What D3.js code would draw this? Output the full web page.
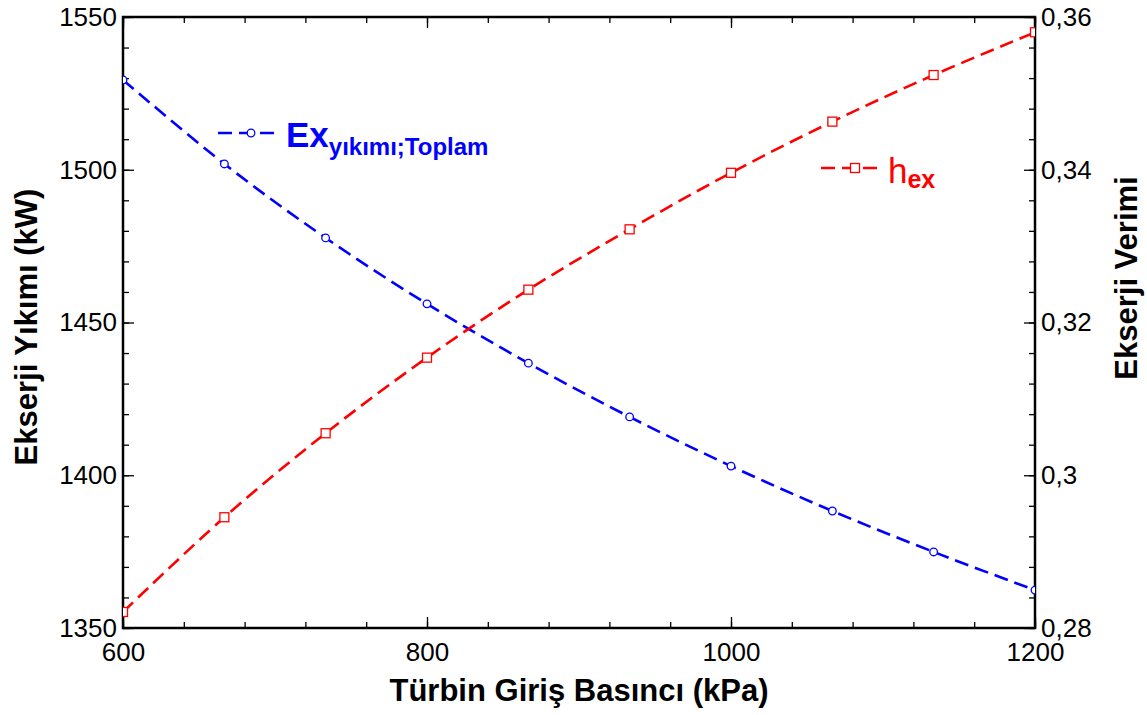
<!DOCTYPE html>
<html lang="tr">
  <head>
    <meta charset="UTF-8" />
    <title>Ekserji Yıkımı ve Verimi</title>
    <style>
      body {
        margin: 0;
        background: #fff;
      }
      svg {
        font-family: "Liberation Sans", Arial, sans-serif;
      }
    </style>
  </head>
  <body>
    <svg id="chart"></svg>
    <script src="https://d3js.org/d3.v7.min.js"></script>
    <script>
      // data
      const pressure = [600, 666.7, 733.3, 800, 866.7, 933.3, 1000, 1066.7, 1133.3, 1200];
      const exDestruction = [1529.4, 1501.9, 1477.7, 1456.1, 1436.7, 1419.1, 1403.0, 1388.3, 1374.9, 1362.4];
      const exEfficiency = [0.2821, 0.2945, 0.3055, 0.3154, 0.3243, 0.3322, 0.3396, 0.3463, 0.3524, 0.358];
      const xTicks = [600, 800, 1000, 1200];
      const yLeftTicks = [1350, 1400, 1450, 1500, 1550];
      const yRightTicks = [0.28, 0.3, 0.32, 0.34, 0.36];

      const W = 1147, H = 715;
      const m = { left: 123, right: 112, top: 17, bottom: 87 };
      const iw = W - m.left - m.right;
      const ih = H - m.top - m.bottom;

      const svg = d3.select("#chart").attr("width", W).attr("height", H);
      const g = svg.append("g").attr("transform", `translate(${m.left},${m.top})`);

      const x = d3.scaleLinear().domain([600, 1200]).range([0, iw]);
      const yL = d3.scaleLinear().domain([1350, 1550]).range([ih, 0]);
      const yR = d3.scaleLinear().domain([0.28, 0.36]).range([ih, 0]);

      const fmtComma = (d) => String(+d.toFixed(2)).replace(".", ",");

      svg.append("defs").append("clipPath").attr("id", "clip")
        .append("rect").attr("width", iw).attr("height", ih);

      function styleAxis(sel) {
        sel.select(".domain").remove();
        sel.selectAll("line").attr("stroke", "#000").attr("stroke-width", 1.3);
        sel.selectAll("text").attr("font-size", 26).attr("fill", "#000");
      }

      // minor ticks
      const xMinor = d3.range(600, 1201, 40);
      const lMinor = d3.range(1350, 1551, 10);
      const rMinor = d3.range(0, 21).map((i) => 0.28 + i * 0.004);

      g.append("g").attr("transform", `translate(0,${ih})`)
        .call(d3.axisBottom(x).tickValues(xMinor).tickSize(-6).tickFormat(""))
        .call(styleAxis);
      g.append("g")
        .call(d3.axisTop(x).tickValues(xMinor).tickSize(-6).tickFormat(""))
        .call(styleAxis);
      g.append("g")
        .call(d3.axisLeft(yL).tickValues(lMinor).tickSize(-6).tickFormat(""))
        .call(styleAxis);
      g.append("g").attr("transform", `translate(${iw},0)`)
        .call(d3.axisRight(yR).tickValues(rMinor).tickSize(-6).tickFormat(""))
        .call(styleAxis);

      // major ticks with labels
      g.append("g").attr("transform", `translate(0,${ih})`)
        .call(d3.axisBottom(x).tickValues(xTicks).tickSize(-11).tickPadding(15).tickFormat(d3.format("d")))
        .call(styleAxis);
      g.append("g")
        .call(d3.axisTop(x).tickValues(xTicks).tickSize(-11).tickFormat(""))
        .call(styleAxis);
      g.append("g")
        .call(d3.axisLeft(yL).tickValues(yLeftTicks).tickSize(-11).tickPadding(6).tickFormat(d3.format("d")))
        .call(styleAxis);
      g.append("g").attr("transform", `translate(${iw},0)`)
        .call(d3.axisRight(yR).tickValues(yRightTicks).tickSize(-11).tickPadding(6).tickFormat(fmtComma))
        .call(styleAxis);

      // frame
      g.append("rect").attr("width", iw).attr("height", ih)
        .attr("fill", "none").attr("stroke", "#000").attr("stroke-width", 2.5);

      const plot = g.append("g").attr("clip-path", "url(#clip)");

      const blueData = pressure.map((p, i) => [p, exDestruction[i]]);
      const redData = pressure.map((p, i) => [p, exEfficiency[i]]);

      const lineL = d3.line().x((d) => x(d[0])).y((d) => yL(d[1])).curve(d3.curveCatmullRom);
      const lineR = d3.line().x((d) => x(d[0])).y((d) => yR(d[1])).curve(d3.curveCatmullRom);

      plot.append("path").datum(blueData).attr("d", lineL)
        .attr("fill", "none").attr("stroke", "#0000ff").attr("stroke-width", 2.6)
        .attr("stroke-dasharray", "14,7");
      plot.append("path").datum(redData).attr("d", lineR)
        .attr("fill", "none").attr("stroke", "#ff0000").attr("stroke-width", 2.6)
        .attr("stroke-dasharray", "14,7");

      plot.selectAll("circle.pt").data(blueData).join("circle").attr("class", "pt")
        .attr("cx", (d) => x(d[0])).attr("cy", (d) => yL(d[1])).attr("r", 3.8)
        .attr("fill", "#fff").attr("stroke", "#0000ff").attr("stroke-width", 1.3);
      plot.selectAll("rect.pt").data(redData).join("rect").attr("class", "pt")
        .attr("x", (d) => x(d[0]) - 4.5).attr("y", (d) => yR(d[1]) - 4.5)
        .attr("width", 9).attr("height", 9)
        .attr("fill", "#fff").attr("stroke", "#ff0000").attr("stroke-width", 1.3);

      // legends
      const lg1 = svg.append("g").attr("transform", "translate(218,133)");
      lg1.append("line").attr("x1", 0).attr("x2", 62).attr("stroke", "#0000ff")
        .attr("stroke-width", 2.6).attr("stroke-dasharray", "14,7");
      lg1.append("circle").attr("cx", 33).attr("r", 3.8).attr("fill", "#fff")
        .attr("stroke", "#0000ff").attr("stroke-width", 1.3);
      const t1 = lg1.append("text").attr("x", 68).attr("y", 14).attr("fill", "#0000ff")
        .attr("font-weight", "bold");
      t1.append("tspan").attr("font-size", 35).text("Ex");
      t1.append("tspan").attr("font-size", 24).attr("dy", 8).text("yıkımı;Toplam");

      const lg2 = svg.append("g").attr("transform", "translate(821,168)");
      lg2.append("line").attr("x1", 0).attr("x2", 62).attr("stroke", "#ff0000")
        .attr("stroke-width", 2.6).attr("stroke-dasharray", "14,7");
      lg2.append("rect").attr("x", 29.5).attr("y", -4.5).attr("width", 9).attr("height", 9)
        .attr("fill", "#fff").attr("stroke", "#ff0000").attr("stroke-width", 1.3);
      const t2 = lg2.append("text").attr("x", 67).attr("y", 15).attr("fill", "#ff0000");
      t2.append("tspan").attr("font-size", 35).text("h");
      t2.append("tspan").attr("font-size", 25).attr("font-weight", "bold").attr("dy", 5).text("ex");

      // axis titles
      svg.append("text").attr("x", m.left + iw / 2).attr("y", 701)
        .attr("text-anchor", "middle").attr("font-size", 31).attr("font-weight", "bold")
        .text("Türbin Giriş Basıncı (kPa)");
      svg.append("text").attr("transform", "translate(37,327) rotate(-90)")
        .attr("text-anchor", "middle").attr("font-size", 31).attr("font-weight", "bold")
        .text("Ekserji Yıkımı (kW)");
      svg.append("text").attr("transform", "translate(1137,278) rotate(-90)")
        .attr("text-anchor", "middle").attr("font-size", 31).attr("font-weight", "bold")
        .text("Ekserji Verimi");
    </script>
  </body>
</html>
